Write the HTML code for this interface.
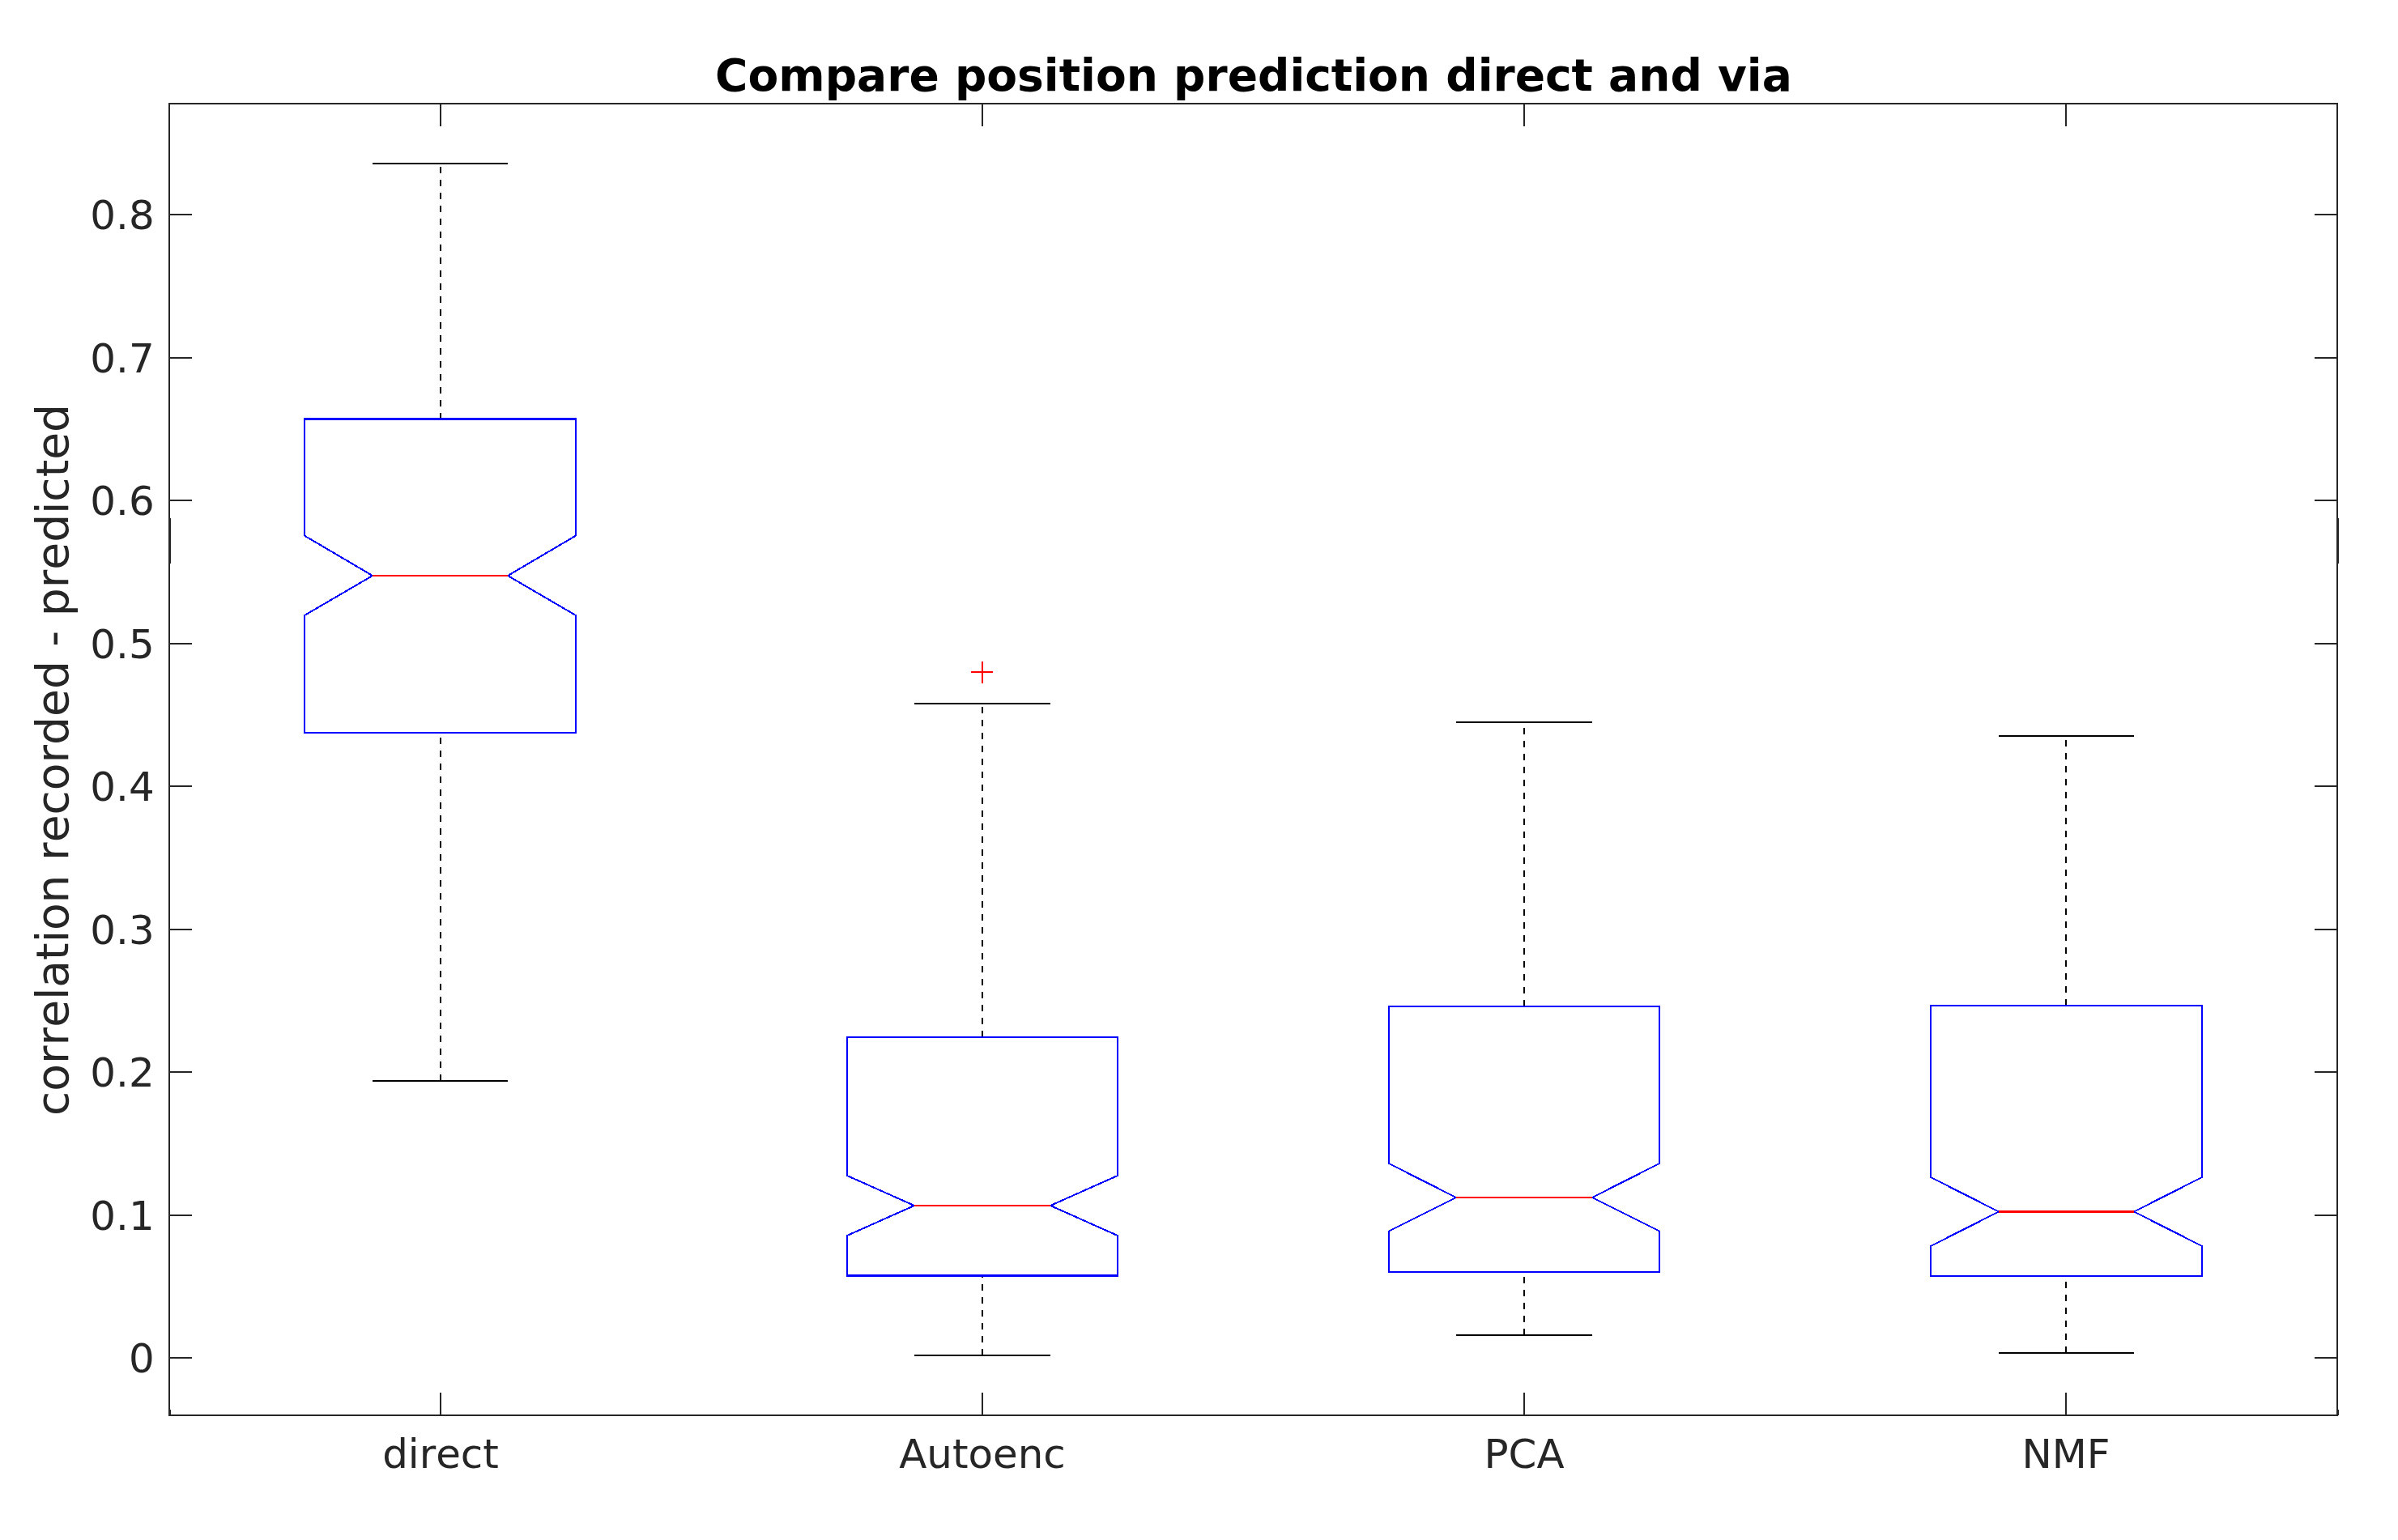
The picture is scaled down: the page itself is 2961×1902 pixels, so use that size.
<!DOCTYPE html>
<html><head><meta charset="utf-8"><title>Compare position prediction direct and via</title>
<style>
html,body{margin:0;padding:0;background:#fff;}
body{width:2961px;height:1902px;overflow:hidden;}
svg{display:block;}
text{font-family:"DejaVu Sans","Liberation Sans",sans-serif;font-kerning:none;font-feature-settings:"kern" 0,"liga" 0;font-variant-ligatures:none;}
.c{shape-rendering:crispEdges;}
</style></head><body>
<svg width="2961" height="1902" viewBox="0 0 2961 1902">
<rect x="0" y="0" width="2961" height="1902" fill="#ffffff"/>
<g class="c">
<path d="M544 517.5V202M544 1335V905" stroke="#000" stroke-width="2" stroke-dasharray="8 8" fill="none"/>
<rect x="460" y="201" width="167" height="2" fill="#000"/>
<rect x="460" y="1334" width="167" height="2" fill="#000"/>
<path d="M376 517.5H711V661.6L627 711L711 760V905H376V760L460 711L376 661.6Z" stroke="#0000ff" stroke-width="2" fill="none" stroke-linejoin="miter"/>
<rect x="375" y="516" width="337" height="3" fill="#0000ff"/>
<rect x="375" y="904" width="337" height="2" fill="#0000ff"/>
<rect x="460" y="710" width="167" height="2" fill="#ff0000"/>
<path d="M1213 1281V869M1213 1674V1575.5" stroke="#000" stroke-width="2" stroke-dasharray="8 8" fill="none"/>
<rect x="1129" y="868" width="168" height="2" fill="#000"/>
<rect x="1129" y="1673" width="168" height="2" fill="#000"/>
<path d="M1046 1281H1380V1452L1297 1489L1380 1526V1575.5H1046V1526L1129 1489L1046 1452Z" stroke="#0000ff" stroke-width="2" fill="none" stroke-linejoin="miter"/>
<rect x="1045" y="1280" width="336" height="2" fill="#0000ff"/>
<rect x="1045" y="1574" width="336" height="3" fill="#0000ff"/>
<rect x="1129" y="1488" width="168" height="2" fill="#ff0000"/>
<path d="M1882 1243V892M1882 1649V1571" stroke="#000" stroke-width="2" stroke-dasharray="8 8" fill="none"/>
<rect x="1798" y="891" width="168" height="2" fill="#000"/>
<rect x="1798" y="1648" width="168" height="2" fill="#000"/>
<path d="M1715 1243H2049V1437L1966 1479L2049 1520.5V1571H1715V1520.5L1798 1479L1715 1437Z" stroke="#0000ff" stroke-width="2" fill="none" stroke-linejoin="miter"/>
<rect x="1714" y="1242" width="336" height="2" fill="#0000ff"/>
<rect x="1714" y="1570" width="336" height="2" fill="#0000ff"/>
<rect x="1798" y="1478" width="168" height="2" fill="#ff0000"/>
<path d="M2551 1242V909M2551 1671V1576" stroke="#000" stroke-width="2" stroke-dasharray="8 8" fill="none"/>
<rect x="2468" y="908" width="167" height="2" fill="#000"/>
<rect x="2468" y="1670" width="167" height="2" fill="#000"/>
<path d="M2384 1242H2719V1454L2635 1496.5L2719 1539V1576H2384V1539L2468 1496.5L2384 1454Z" stroke="#0000ff" stroke-width="2" fill="none" stroke-linejoin="miter"/>
<rect x="2383" y="1241" width="337" height="2" fill="#0000ff"/>
<rect x="2383" y="1575" width="337" height="2" fill="#0000ff"/>
<rect x="2468" y="1495" width="167" height="3" fill="#ff0000"/>
<rect x="1199" y="829" width="27" height="2" fill="#ff0000"/>
<rect x="1212" y="817" width="2" height="27" fill="#ff0000"/>
<g fill="#262626">
<rect x="208" y="127" width="2679" height="2"/>
<rect x="208" y="1747" width="2679" height="2"/>
<rect x="208" y="127" width="2" height="1622"/>
<rect x="2885" y="127" width="2" height="1622"/>
<rect x="209" y="1676" width="28" height="2"/>
<rect x="2858" y="1676" width="28" height="2"/>
<rect x="209" y="1500" width="28" height="2"/>
<rect x="2858" y="1500" width="28" height="2"/>
<rect x="209" y="1323" width="28" height="2"/>
<rect x="2858" y="1323" width="28" height="2"/>
<rect x="209" y="1147" width="28" height="2"/>
<rect x="2858" y="1147" width="28" height="2"/>
<rect x="209" y="970" width="28" height="2"/>
<rect x="2858" y="970" width="28" height="2"/>
<rect x="209" y="794" width="28" height="2"/>
<rect x="2858" y="794" width="28" height="2"/>
<rect x="209" y="617" width="28" height="2"/>
<rect x="2858" y="617" width="28" height="2"/>
<rect x="209" y="441" width="28" height="2"/>
<rect x="2858" y="441" width="28" height="2"/>
<rect x="209" y="264" width="28" height="2"/>
<rect x="2858" y="264" width="28" height="2"/>
<rect x="543" y="1720" width="2" height="28"/>
<rect x="543" y="128" width="2" height="28"/>
<rect x="1212" y="1720" width="2" height="28"/>
<rect x="1212" y="128" width="2" height="28"/>
<rect x="1881" y="1720" width="2" height="28"/>
<rect x="1881" y="128" width="2" height="28"/>
<rect x="2550" y="1720" width="2" height="28"/>
<rect x="2550" y="128" width="2" height="28"/>
</g>
<g fill="#262626">
<rect x="210" y="640" width="1" height="56"/>
<rect x="2887" y="640" width="1" height="56"/>
<rect x="210" y="1741" width="1" height="7"/>
<rect x="2887" y="1741" width="1" height="7"/>
</g>
</g>
<g fill="#262626" font-size="49.9px">
<text x="190.7" y="1695" text-anchor="end">0</text>
<text x="190.7" y="1519" text-anchor="end">0.1</text>
<text x="190.7" y="1342" text-anchor="end">0.2</text>
<text x="190.7" y="1166" text-anchor="end">0.3</text>
<text x="190.7" y="989" text-anchor="end">0.4</text>
<text x="190.7" y="813" text-anchor="end">0.5</text>
<text x="190.7" y="636" text-anchor="end">0.6</text>
<text x="190.7" y="460" text-anchor="end">0.7</text>
<text x="190.7" y="283" text-anchor="end">0.8</text>
<text x="544" y="1812.8" text-anchor="middle">direct</text>
<text x="1213" y="1812.8" text-anchor="middle">Autoenc</text>
<text x="1882" y="1812.8" text-anchor="middle">PCA</text>
<text x="2551" y="1812.8" text-anchor="middle">NMF</text>
</g>
<text transform="translate(84.2 938.5) rotate(-90)" text-anchor="middle" font-size="55.05px" fill="#262626">correlation recorded - predicted</text>
<text x="1548" y="112" text-anchor="middle" font-size="55.05px" font-weight="bold" fill="#000">Compare position prediction direct and via</text>
</svg>
</body></html>
